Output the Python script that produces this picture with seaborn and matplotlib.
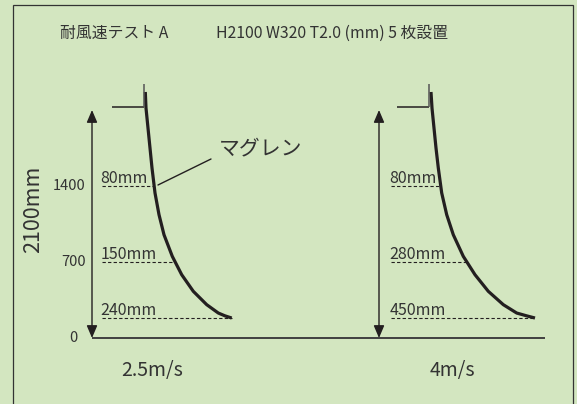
import numpy as np
import matplotlib.pyplot as plt
from matplotlib.patches import Rectangle
import seaborn as sns

# chart values
speeds = ["2.5m/s", "4m/s"]
full_height = 2100                  # mm, dimension arrow
tick_values = [1400, 700, 0]
gauge_heights = [1400, 700, 184]    # last one = bent blade tip
sway_left = ["80mm", "150mm", "240mm"]
sway_right = ["80mm", "280mm", "450mm"]

# bent blade: height (mm) and sideways offset from the root
blade_h = [2266, 2118, 1934, 1750, 1566, 1336, 1136, 951, 752, 583, 430, 307, 230, 204, 184]
blade_dx_left = [0, 0.7, 2.7, 4.7, 6.7, 9.7, 13.7, 18.7, 27.0, 36.4, 48.0, 61.4, 73.0, 79.7, 86.4]
blade_dx_right = [0, 1.0, 3.0, 5.0, 7.3, 10.7, 15.7, 22.3, 32.3, 44.0, 57.3, 72.3, 85.7, 95.7, 104.0]

title_left = "耐風速テスト A"
title_right = "H2100 W320 T2.0 (mm) 5 枚設置"
blade_name = "マグレン"
height_label = "2100mm"

BG = "#d3e6c0"
INK = "#231f20"
TXT = "#333333"

sns.set_theme(style="white", rc={"figure.facecolor": BG, "axes.facecolor": BG})
plt.rcParams["font.family"] = ["Noto Sans CJK JP", "DejaVu Sans"]

W, H = 577, 404
S = 228 / 2100      # px per mm
BASE = 338          # pixel row of the zero line


def ypx(py):
    # pixel row -> mm, only used for placing texts
    return (BASE - py) / S


fig = plt.figure(figsize=(W / 100, H / 100), dpi=100)
ax = fig.add_axes([0, 0, 1, 1])
ax.set_xlim(0, W)
ax.set_ylim(-(H - BASE) / S, BASE / S)
ax.axis("off")

# frame
ax.add_patch(Rectangle((13 / W, -0.05), 560 / W, 1.05 - 5 / H, transform=ax.transAxes,
                       fill=False, lw=0.9, ec="#333333"))

# title
ax.text(60, ypx(37.5), title_left, fontsize=11.4, color=TXT, va="baseline")
ax.text(216, ypx(37.5), title_right, fontsize=11.4, color=TXT, va="baseline")

# ground line
ax.plot([92, 545], [0, 0], lw=1.4, color="#404040", solid_capstyle="butt")

panels = [
    dict(arrow_x=92, root_x=145.3, gauge_x0=102, dx=blade_dx_left, labels=sway_left, speed_x=152),
    dict(arrow_x=379, root_x=431, gauge_x0=391, dx=blade_dx_right, labels=sway_right, speed_x=452),
]

for p, speed in zip(panels, speeds):
    xs = p["root_x"] + np.array(p["dx"])
    sns.lineplot(x=xs, y=blade_h, sort=False, estimator=None, color=INK, lw=2.3, ax=ax,
                 solid_joinstyle="round", solid_capstyle="butt")

    # mounting bracket
    rx = p["root_x"] - 1.7
    ax.plot([rx - 32, rx], [2128, 2128], lw=1.1, color=INK, solid_capstyle="butt")
    ax.plot([rx, rx], [ypx(84), 2128], lw=1.1, color="#555555", solid_capstyle="butt")

    # dimension arrow 0..2100
    ax.annotate("", xy=(p["arrow_x"], 0), xytext=(p["arrow_x"], full_height),
                arrowprops=dict(arrowstyle="<|-|>,head_length=0.75,head_width=0.32",
                                mutation_scale=10, lw=1.0, color=INK,
                                shrinkA=0, shrinkB=0))

    # gauge lines with sway values
    for h, lab in zip(gauge_heights, p["labels"]):
        x_end = p["root_x"] + np.interp(h, blade_h[::-1], p["dx"][::-1])
        ax.plot([p["gauge_x0"], x_end], [h, h], ls=(0, (3, 2)), lw=0.8, color=INK)
        ax.text(p["gauge_x0"] - 1.5, h + 3 / S, lab, fontsize=11.5, color=TXT, va="baseline")

    ax.text(p["speed_x"], ypx(376), speed, fontsize=14, color=TXT, ha="center", va="baseline")

# tick labels on the left
for v in tick_values:
    ax.text(86 if v else 78, v, str(v), fontsize=10.5, color=TXT, ha="right", va="center")

ax.text(33, ypx(209), height_label, fontsize=15.5, color=TXT, rotation=90,
        ha="center", va="center")

# leader to the blade
ax.plot([158, 211], [ypx(185), ypx(159)], lw=1.0, color=INK)
ax.text(219, ypx(148), blade_name, fontsize=15, color=TXT, va="center")

fig.savefig("out.png", dpi=100, facecolor=BG)
